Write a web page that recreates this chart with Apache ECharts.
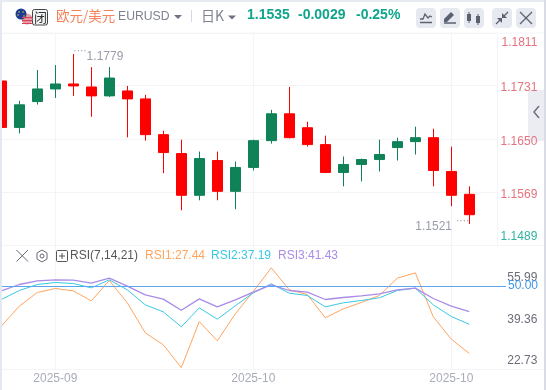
<!DOCTYPE html>
<html><head><meta charset="utf-8">
<style>html,body{margin:0;padding:0;background:#e8ebf2;overflow:hidden}#c{width:546px;height:390px}</style>
<script src="https://cdn.jsdelivr.net/npm/echarts@6/dist/echarts.min.js"></script></head>
<body><div id="c"></div>
<script>
const axisLabels = ['','','','2025-09','','','','','','','','','','','2025-10','','','','','','','','','','','2025-10','',''];
const opens  = [1.17381,1.16676,1.17069,1.17260,1.17336,1.17290,1.17155,1.17230,1.17109,1.16566,1.16279,1.15645,1.16173,1.15705,1.16068,1.16475,1.16883,1.16671,1.16415,1.15992,1.16113,1.16188,1.16370,1.16460,1.16520,1.16007,1.15660];
const closes = [1.16676,1.17019,1.17260,1.17336,1.17306,1.17155,1.17426,1.17109,1.16566,1.16294,1.15645,1.16203,1.15705,1.16068,1.16475,1.16883,1.16520,1.16415,1.15992,1.16113,1.16188,1.16264,1.16460,1.16520,1.16022,1.15645,1.15350];
const lows   = [1.16676,1.16585,1.17023,1.17124,1.17155,1.16838,1.17139,1.16525,1.16475,1.15982,1.15418,1.15569,1.15569,1.15433,1.16022,1.16430,1.16510,1.16385,1.15982,1.15781,1.15856,1.16007,1.16173,1.16264,1.15781,1.15479,1.15210];
const highs  = [1.17381,1.17079,1.17547,1.17623,1.17790,1.17592,1.17592,1.17306,1.17170,1.16626,1.16490,1.16309,1.16309,1.16158,1.16490,1.16943,1.17290,1.16762,1.16551,1.16234,1.16203,1.16490,1.16520,1.16687,1.16656,1.16385,1.15781];
const rsi1 = [36.55,43.22,47.77,49.11,48.33,44.99,51.77,44.33,34.33,30.33,22.73,38.11,31.66,40.66,48.11,55.99,48.66,47.11,39.33,42.33,44.44,46.77,52.55,54.33,39.66,32.22,27.44];
const rsi2 = [45.44,48.44,50.44,51.11,50.77,49.33,52.00,48.66,43.66,41.33,36.33,42.66,38.88,43.33,47.66,50.66,47.55,46.77,42.99,44.33,45.11,46.00,48.44,49.22,43.66,39.77,37.19];
const rsi3 = [48.33,50.44,51.66,51.99,51.88,50.88,52.55,49.88,46.99,45.55,41.88,45.66,42.99,45.33,47.88,50.33,48.44,47.88,45.44,46.11,46.66,47.33,48.66,49.22,45.77,43.22,41.43];
const priceTicks = [1.1489,1.1569,1.1650,1.1731,1.1811];
const rsiTicks = [22.73,39.36,55.99];
const RSI_MID = 50;
const highMark = 1.1779, lowMark = 1.1521;

const UP='#0f8257', DOWN='#ff0000', GREY='#9a9dab', ORANGE='#ffa55f', CYAN='#38c9e2', PURPLE='#a98be8', LINE='#f3f4f8';
const candles = opens.map((o,i)=>[o,closes[i],lows[i],highs[i]]);
const tickIdx = (i)=>axisLabels[i]!=='';

const sans='"Liberation Sans",Arial,sans-serif', cjk='"Noto Sans CJK SC","Liberation Sans",sans-serif';
const T=(text,x,y,fill,font,extra)=>({type:'text',z:20,style:Object.assign({text,x,y,fill,font,verticalAlign:'middle',align:'left'},extra||{})});
const L=(x1,y1,x2,y2,stroke,w)=>({type:'line',z:20,shape:{x1,y1,x2,y2},style:{stroke,lineWidth:w||1}});
const P=(pts,stroke,w,fill)=>({type:fill?'polygon':'polyline',z:20,shape:{points:pts},style:fill?{fill}:{stroke,lineWidth:w||1,fill:'none'}});
const R=(x,y,w,h,fill,r,z,stroke)=>({type:'rect',z:z==null?10:z,shape:{x,y,width:w,height:h,r:r||0},style:{fill,stroke:stroke||null}});
const C=(cx,cy,r,fill)=>({type:'circle',z:20,shape:{cx,cy,r},style:{fill}});
const ICON='#5c6170';
const gfx=[
  // page frame
  R(0,0,2,390,'#e4e8f0',0,10),
  R(0,0,546,2,'#e8ebf2',0,10),
  R(544,0,2,390,'#d9dce4',0,10),
  // separators
  L(2,33,544,33,LINE,1), L(2,245.5,544,245.5,LINE,1), L(2,369.5,544,369.5,LINE,1),
  L(497.5,33,497.5,245,LINE,1),
  // side tab
  R(528,90,16,51,'#ecedf3',0,-1),
  P([[539,106],[534,112],[539,118]],'#6c7180',1.5),
  // flags
  C(27,19,5.5,'#e8a0a8'),
  R(22,17,10,1.2,'#d9405a',0,21),R(22,20,10,1.2,'#d9405a',0,21),R(22,23,10,1,'#d9405a',0,21),
  C(21,14,5.5,'#1c3d94'),
  C(19,12,.8,'#e6c52d'),C(23,12,.8,'#e6c52d'),C(18,15,.8,'#e6c52d'),C(24,16,.8,'#e6c52d'),
  R(32.5,9.5,15,15.5,'#f2f3f5',2,19,'#444'),
  T('闭',34,17.5,'#333','13px '+cjk),
  // header
  T('欧元/美元',56,16,'#f5835c','13.5px '+cjk),
  T('EURUSD',118,17,'#7e8190','12.2px '+sans),
  P([[174,15],[182,15],[178,19]],null,1,'#6e7180'),
  L(191.5,10,191.5,22,'#d6d9e1',1),
  T('日K',201,15.5,'#7e8190','14px '+cjk),
  P([[228,15.5],[236,15.5],[232,19.5]],null,1,'#6e7180'),
  T('1.1535',247,15.5,'#0fa58c','bold 14px '+sans),
  T('-0.0029',298,15.5,'#0fa58c','bold 14px '+sans),
  T('-0.25%',356,15.5,'#0fa58c','bold 14px '+sans),
  // toolbar
  R(416,8,20,20,'#e7e9f0',4,10),R(440,8,20,20,'#e7e9f0',4,10),R(464,8,20,20,'#e7e9f0',4,10),R(492,8,20,20,'#e7e9f0',4,10),R(516,8,20,20,'#e7e9f0',4,10),
  P([[420,19],[423,19],[425,14],[428,18],[430,16],[432,17]],ICON,1.3), L(420,22.5,432,22.5,ICON,1.5),
  P([[444,19],[451,12],[454,15],[447,22],[444,22]],null,1,ICON), L(444,23,456,23,ICON,1.5),
  L(469,12,469,23,ICON,1),L(478,14,478,25,ICON,1),R(467,14,4,7,ICON,0,20),R(476,16,4,7,ICON,0,20),
  L(496,24,501,19,ICON,1.2),L(503,17,508,12,ICON,1.2),P([[497,18],[502,18],[502,23]],null,1,ICON),P([[502,13],[502,18],[507,18]],null,1,ICON),
  L(520,12,532,24,ICON,1.2),L(532,12,520,24,ICON,1.2),
  // RSI header
  L(16.5,250,28,261.5,'#666a75',1),L(28,250,16.5,261.5,'#666a75',1),
  P([[42,250],[47,253],[47,259],[42,262],[37,259],[37,253],[42,250]],'#666a75',1),
  {type:'circle',z:20,shape:{cx:42,cy:256,r:2},style:{fill:'none',stroke:'#666a75',lineWidth:1}},
  R(56.5,250.5,11,11,'none',1,20,'#555'),L(59,256,65,256,'#555',1),L(62,253,62,259,'#555',1),
  T('RSI(7,14,21)',70,256,'#555','12px '+sans),
  T('RSI1:27.44',145,256,ORANGE,'12px '+sans),
  T('RSI2:37.19',211,256,CYAN,'12px '+sans),
  T('RSI3:41.43',278,256,PURPLE,'12px '+sans),
];

const gridBox = {left:-7.7,width:504,outerBoundsMode:'none'};
const lineSeries=(name,data,color,w,extra)=>Object.assign({name,type:'line',xAxisIndex:1,yAxisIndex:1,data,symbol:'none',silent:true,lineStyle:{color,width:w},itemStyle:{color},z:3},extra||{});
const PINK='#e5727f', TEAL='#2fb39f';
const priceLabel=(v)=>{const s=v.toFixed(4);
  if(v===priceTicks[priceTicks.length-1])return '{t|'+s+'}';
  if(v===priceTicks[0])return '{b|'+s+'}';
  return '{m|'+s+'}';};
const option={
  animation:false,backgroundColor:'#fff',graphic:{elements:gfx},
  grid:[Object.assign({top:33,height:212},gridBox),Object.assign({top:245.5,height:124},gridBox)],
  xAxis:[0,1].map(g=>({type:'category',gridIndex:g,data:axisLabels,boundaryGap:true,
    axisLine:{show:false},axisTick:{show:false},
    splitLine:{show:true,alignWithLabel:true,interval:tickIdx,lineStyle:{color:LINE,width:1}},
    axisLabel:g?{show:true,interval:tickIdx,color:'#a9acba',fontSize:12,fontFamily:sans,margin:3,hideOverlap:false}:{show:false}})),
  yAxis:[
    {type:'value',gridIndex:0,position:'right',min:1.1489,max:1.1811,scale:true,
     axisLine:{show:false},axisTick:{show:false,customValues:priceTicks},
     splitLine:{show:true,lineStyle:{color:LINE,width:1}},
     axisLabel:{customValues:priceTicks,align:'right',margin:41,fontSize:12,fontFamily:sans,
       verticalAlignMaxLabel:'top',verticalAlignMinLabel:'bottom',
       formatter:priceLabel,rich:{
         t:{color:PINK,fontSize:12,fontFamily:sans,padding:[4,0,0,0]},
         m:{color:PINK,fontSize:12,fontFamily:sans,padding:[5,0,0,0]},
         b:{color:TEAL,fontSize:12,fontFamily:sans,padding:[0,0,2,0]}}}},
    {type:'value',gridIndex:1,position:'right',min:22.11,max:63.44,
     axisLine:{show:false},axisTick:{show:false},splitLine:{show:false},axisLabel:{show:false}},
    {type:'value',gridIndex:1,position:'right',min:19.28,max:69.09,
     axisLine:{show:false},axisTick:{show:false},splitLine:{show:false},
     axisLabel:{customValues:rsiTicks,align:'right',margin:41,fontSize:12,fontFamily:sans,color:'#6b6e7a',formatter:(v)=>v.toFixed(2)}}
  ],
  series:[
    {type:'candlestick',xAxisIndex:0,yAxisIndex:0,data:candles,barWidth:11,silent:true,
     itemStyle:{color:UP,borderColor:UP,color0:DOWN,borderColor0:DOWN,borderWidth:1},
     markPoint:{symbol:'circle',symbolSize:0,silent:true,data:[
       {coord:[4,highMark],value:highMark,label:{position:'right',distance:0,formatter:'{d|····}{v|'+highMark.toFixed(4)+'}'}},
       {coord:[26,lowMark],value:lowMark,label:{position:'left',distance:0,formatter:'{v|'+lowMark.toFixed(4)+'}{e|····}'}}],
       label:{show:true,rich:{d:{fontSize:10,color:GREY,fontFamily:sans,padding:[0,0,5,0]},
         e:{fontSize:10,color:GREY,fontFamily:sans,padding:[0,0,5,4]},
         v:{fontSize:12,color:GREY,fontFamily:sans,padding:[6,0,0,0]}}}}},
    lineSeries('RSI1',rsi1,ORANGE,1,{markLine:{symbol:'none',silent:true,animation:false,
        lineStyle:{color:'#5aa5ee',width:1,type:'solid'},
        label:{show:true,position:'end',distance:2,formatter:RSI_MID.toFixed(2),color:'#3f97e8',fontSize:12,fontFamily:sans},
        data:[[{yAxis:RSI_MID,x:2},{yAxis:RSI_MID,x:506}]]}}),
    lineSeries('RSI2',rsi2,CYAN,1),
    lineSeries('RSI3',rsi3,PURPLE,1.3)
  ]
};
const chart=echarts.init(document.getElementById('c'),null,{renderer:'canvas'});
chart.setOption(option);
</script></body></html>
